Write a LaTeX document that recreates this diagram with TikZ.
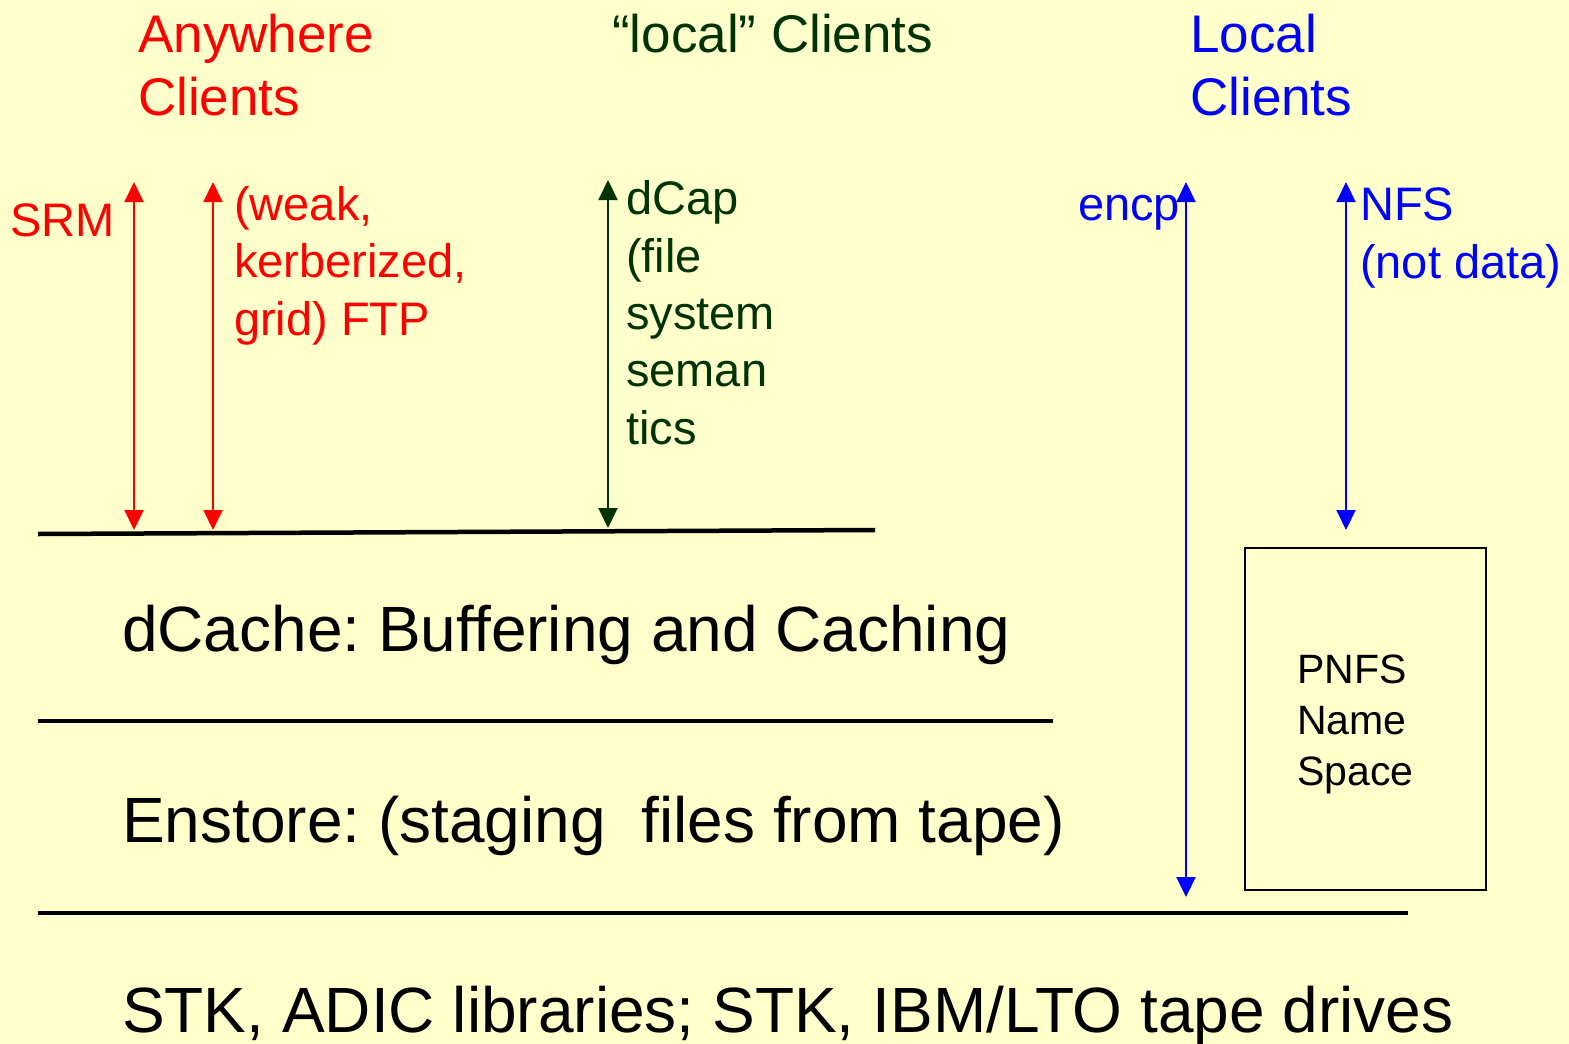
\documentclass[tikz,border=0pt]{standalone}
\usepackage{fontspec}
\setmainfont{Liberation Sans}
\usetikzlibrary{arrows.meta}
\definecolor{bgyellow}{HTML}{FFFFCC}
\definecolor{anyred}{HTML}{FF0000}
\definecolor{locgreen}{HTML}{003300}
\definecolor{locblue}{HTML}{0000FF}
\frenchspacing
\tikzset{
  lbl/.style={inner sep=0pt, anchor=base west, align=left},
  title/.style={lbl, font=\fontsize{53}{63}\selectfont},
  small/.style={lbl, font=\fontsize{47}{57.3}\selectfont},
  layer/.style={lbl, font=\fontsize{64}{76}\selectfont},
  pnfs/.style={lbl, font=\fontsize{41}{51}\selectfont},
  sep/.style={line width=4.5pt, black},
  proto/.style={line width=2pt, {Triangle[width=19pt,length=20pt]}-{Triangle[width=19pt,length=20pt]}}
}
\begin{document}
\begin{tikzpicture}[x=1pt,y=-1pt]
\fill[bgyellow] (0,0) rectangle (1569,1044);
\useasboundingbox (0,0) rectangle (1569,1044);
% client groups (base anchor = baseline of last line)
\node[title, text=anyred] (anyw) at (138,115) {Anywhere\\Clients};
\node[title, text=locgreen] (locq) at (612,52) {\frenchspacing “local” Clients};
\node[title, text=locblue] (locc) at (1190,115) {Local\\Clients};
% protocol labels
\node[small, text=anyred] (srm) at (10,236) {SRM};
\node[small, text=anyred] (ftp) at (234,335) {(weak,\\kerberized,\\grid) FTP};
\node[small, text=locgreen] (dcap) at (626,444) {dCap\\(file\\system\\seman\\tics};
\node[small, text=locblue] (encp) at (1078,220) {encp};
\node[small, text=locblue] (nfs) at (1360,278) {NFS\\(not data)};
% layer separators
\coordinate (l1a) at (38,534); \coordinate (l1b) at (875,530);
\coordinate (l2a) at (38,721); \coordinate (l2b) at (1053,721);
\coordinate (l3a) at (38,913); \coordinate (l3b) at (1408,913);
\draw[sep] (l1a) -- (l1b);
\draw[sep] (l2a) -- (l2b);
\draw[sep] (l3a) -- (l3b);
% layers
\node[layer] (dcache) at (122,651) {\frenchspacing dCache: Buffering and Caching};
\node[layer] (enstore) at (122,842) {\frenchspacing Enstore: (staging\ \ files from tape)};
\node[layer] (stk) at (122,1032) {\frenchspacing STK, ADIC libraries; STK, IBM/LTO tape drives};
% PNFS box
\draw[line width=2pt, black] (1245,548) rectangle (1486,890);
\node[pnfs] (pnfsname) at (1297,785) {PNFS\\Name\\Space};
% arrows
\coordinate (srmT) at (134,182); \coordinate (srmB) at (134,530);
\coordinate (ftpT) at (213,182); \coordinate (ftpB) at (213,530);
\coordinate (dcapT) at (608,180); \coordinate (dcapB) at (608,528);
\coordinate (encpT) at (1186,182); \coordinate (encpB) at (1186,897);
\coordinate (nfsT) at (1346,182); \coordinate (nfsB) at (1346,530);
\draw[proto, anyred] (srmT) -- (srmB);
\draw[proto, anyred] (ftpT) -- (ftpB);
\draw[proto, locgreen] (dcapT) -- (dcapB);
\draw[proto, locblue] (encpT) -- (encpB);
\draw[proto, locblue] (nfsT) -- (nfsB);
\end{tikzpicture}
\end{document}
